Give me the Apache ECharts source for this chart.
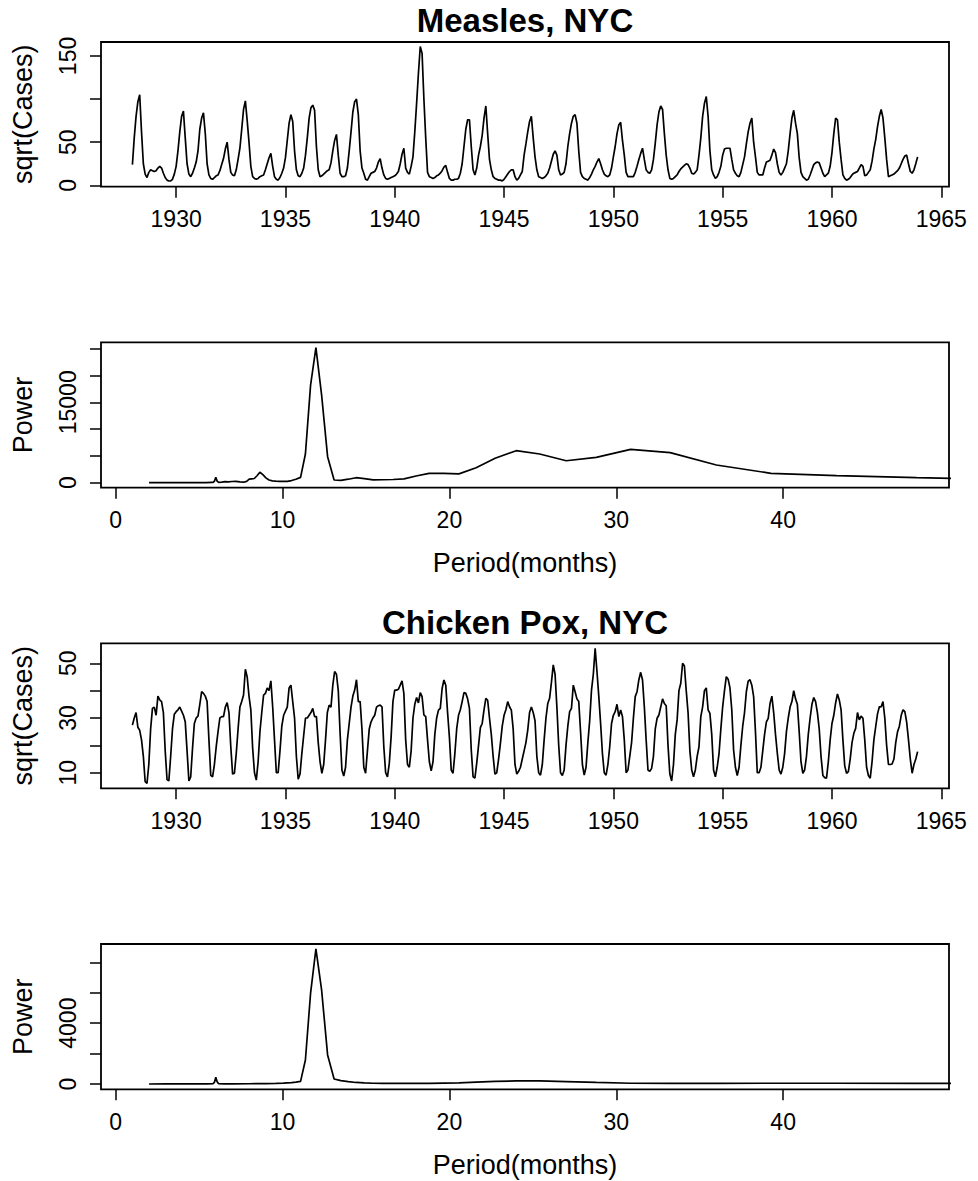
<!DOCTYPE html>
<html>
<head>
<meta charset="utf-8">
<title>Measles and Chicken Pox, NYC</title>
<script src="https://cdn.jsdelivr.net/npm/echarts@6/dist/echarts.min.js"></script>
<style>
  html, body { margin: 0; padding: 0; background: #ffffff; }
  #chart { width: 978px; height: 1181px; }
</style>
</head>
<body>
<div id="chart"></div>
<script>
// Monthly series start in January 1928 (12 values per row = one year)
const startYear = 1928;

// sqrt of monthly measles cases, NYC
const measlesSqrt = [
  24, 55, 80, 97, 105, 62, 25, 13, 9, 15, 18, 17,
  16, 17, 20, 22, 20, 14, 9, 6, 5, 5, 7, 13,
  22, 40, 62, 80, 86, 55, 25, 13, 10, 14, 20, 27,
  40, 65, 78, 84, 60, 25, 12, 8, 7, 9, 11, 12,
  17, 24, 31, 42, 50, 30, 15, 12, 11, 18, 30, 43,
  65, 88, 98, 75, 50, 22, 10, 8, 7, 8, 10, 11,
  12, 18, 25, 32, 37, 22, 10, 7, 6, 9, 14, 20,
  32, 52, 72, 82, 74, 40, 18, 11, 10, 14, 20, 35,
  55, 78, 90, 93, 87, 45, 18, 10, 11, 13, 15, 17,
  18, 26, 40, 52, 59, 35, 14, 10, 10, 11, 20, 40,
  62, 85, 97, 100, 82, 40, 20, 14, 7, 6, 10, 14,
  15, 16, 20, 27, 31, 20, 12, 8, 7, 8, 9, 10,
  11, 13, 16, 25, 36, 43, 20, 15, 13, 22, 33, 62,
  95, 130, 161, 153, 100, 55, 15, 10, 9, 8, 9, 11,
  12, 14, 17, 21, 23, 15, 8, 6, 6, 7, 7, 8,
  14, 25, 45, 65, 76, 76, 45, 18, 12, 20, 35, 45,
  58, 78, 92, 60, 30, 18, 10, 8, 7, 6, 6, 5,
  7, 10, 13, 16, 18, 18, 10, 6, 8, 12, 16, 35,
  48, 62, 74, 80, 55, 33, 18, 10, 9, 8, 9, 11,
  14, 20, 28, 36, 40, 35, 18, 12, 13, 15, 25, 45,
  60, 72, 80, 82, 72, 40, 15, 10, 8, 7, 6, 9,
  13, 18, 22, 27, 31, 25, 18, 13, 11, 10, 12, 20,
  33, 45, 60, 70, 73, 52, 35, 15, 10, 10, 10, 10,
  15, 22, 30, 37, 43, 30, 18, 15, 14, 18, 30, 49,
  70, 85, 92, 88, 60, 35, 18, 8, 7, 8, 10, 12,
  16, 19, 21, 23, 25, 24, 20, 14, 13, 15, 18, 35,
  55, 80, 95, 103, 80, 40, 18, 12, 8, 10, 15, 22,
  35, 42, 43, 43, 43, 30, 18, 14, 11, 10, 15, 24,
  33, 48, 62, 72, 78, 50, 33, 15, 12, 12, 12, 20,
  27, 28, 29, 35, 42, 38, 25, 15, 12, 15, 20, 25,
  40, 60, 78, 87, 72, 60, 32, 15, 10, 8, 6, 7,
  12, 18, 24, 26, 27, 26, 20, 14, 10, 12, 14, 22,
  38, 60, 78, 76, 50, 30, 12, 8, 6, 7, 9, 12,
  14, 15, 16, 20, 24, 22, 11, 12, 15, 18, 28, 42,
  53, 68, 80, 88, 78, 55, 30, 10, 11, 12, 13, 15,
  17, 20, 25, 30, 34, 35, 25, 16, 14, 18, 25, 33
];

// sqrt of monthly chicken pox cases, NYC
const chickenPoxSqrt = [
  27.4, 30, 32, 26.6, 25.5, 22, 16, 6.7, 6.1, 13, 26, 33.5,
  34, 31, 38, 36.6, 36, 32, 18, 7.5, 7, 16, 26, 31.4,
  32.3, 33, 34, 32.5, 31, 28.6, 18, 7, 8.5, 19, 28, 30,
  30.7, 35, 39.6, 39, 38, 36, 22, 9, 8.5, 13, 19.5, 25,
  30, 30.5, 30.5, 34, 35.6, 32, 19.5, 9.5, 9.8, 17, 26, 34,
  36, 38.4, 47.8, 45, 38, 33, 19, 10, 7.3, 14, 25, 32,
  38.4, 39, 41, 40, 43.6, 34, 22, 10, 10, 18, 27, 31,
  32.5, 34, 41, 42, 36, 30, 16, 7.6, 9.5, 17, 23.5, 30,
  30, 31, 32, 33.5, 30.5, 30.5, 21, 14, 9.8, 13, 22, 32,
  34.7, 34, 42, 47, 46, 40, 24.4, 11, 8.8, 12, 22, 28,
  34, 38, 40.2, 44, 36, 36, 26, 12, 9.8, 18, 26, 28.6,
  30, 31, 34, 34.5, 34.7, 34.1, 19.5, 10, 8.5, 13.4, 23, 36,
  40.2, 40.2, 40.5, 42, 43.6, 39, 22, 13, 12, 18, 30, 35,
  37.5, 35.5, 39.3, 37.8, 31.1, 30.5, 22, 14, 10.7, 14, 24, 30,
  32.9, 33.5, 40.8, 43.9, 42, 32, 23, 11, 9.8, 17, 26, 31,
  33, 36, 39.3, 39, 37, 33.5, 18.3, 8.5, 8, 13.5, 20, 26.5,
  28, 33, 37.2, 36.5, 30, 24, 16, 9.5, 10, 15, 20.7, 27,
  31, 33, 36, 34.1, 32.9, 26, 13, 9.5, 10.5, 12, 15, 18,
  21, 25.6, 32, 34, 32, 29, 16, 10, 9.1, 13, 22, 30,
  35.3, 37.2, 43, 49.4, 46, 34, 20, 10, 9, 11, 20, 27,
  32.3, 33.5, 42, 39.6, 37, 36, 25, 13, 9.1, 12, 21, 29,
  40.2, 46, 55.5, 47, 38, 28, 17, 10, 9.1, 13, 19.5, 28,
  31, 32.3, 35, 30.5, 32.9, 30.5, 22, 10, 11, 16, 21, 30,
  37.8, 39.6, 44, 46.7, 43.9, 34.1, 22, 11, 10.5, 11.6, 16, 26,
  29.9, 31.1, 34, 37, 35.3, 34.5, 20, 9.5, 7, 13, 24, 29.3,
  40, 42.7, 50, 49, 40, 32, 18, 11, 8.5, 11, 16, 19.5,
  30.5, 34.1, 40, 41, 33, 31.7, 24, 11, 8.5, 12, 17, 26,
  34.1, 40, 45.1, 44.2, 41, 33, 18.3, 12, 9, 12, 20, 27,
  32, 39.6, 43.5, 44, 42, 37.8, 25, 10, 10, 12, 18, 24,
  28.6, 29.9, 35.3, 38, 32, 24, 17.1, 11, 9.5, 12, 17, 25,
  30, 34, 36, 40, 37, 35, 25, 14, 9.8, 11, 16, 24,
  30, 35, 37.5, 36, 32, 26, 15.9, 9, 8.2, 8, 14, 22,
  28, 31, 35.5, 38.8, 36.6, 33, 22, 12.5, 9.8, 10.4, 15, 21,
  24.4, 26.2, 32, 29.3, 30.7, 29.9, 22, 12, 9, 8, 14, 22,
  26.8, 31.5, 34.1, 34.1, 36, 30, 20, 13, 13, 13.2, 15, 21,
  25, 27, 31, 33, 32.3, 28.5, 22, 15, 9.8, 13, 15, 17.7
];

// Periodogram of the measles series: period (months) and power
const measlesPeriod = [
  2.0, 2.5, 3.0, 3.5, 4.0, 4.5, 5.0, 5.4, 5.76, 5.84, 5.92, 6.0, 6.08, 6.17,
  6.35, 6.55, 6.75, 6.97, 7.2, 7.45, 7.71, 7.85, 8.0, 8.15, 8.31, 8.47, 8.64,
  8.82, 9.0, 9.19, 9.39, 9.6, 9.82, 10.05, 10.29, 10.54, 10.8, 11.08, 11.37,
  11.68, 12.0, 12.34, 12.7, 13.09, 13.5, 13.94, 14.4, 14.9, 15.43, 16.0, 16.62,
  17.28, 18.0, 18.78, 19.64, 20.57, 21.6, 22.74, 24.0, 25.41, 27.0, 28.8, 30.86,
  33.23, 36.0, 39.27, 43.2, 48.0, 54.0
];
const measlesPower = [
  0, 10, 0, 20, 20, 30, 40, 30, 60, 50, 300, 1000, 300, 60,
  120, 200, 150, 220, 250, 150, 120, 250, 650, 720, 780, 1300, 1950,
  1500, 900, 500, 350, 300, 250, 230, 260, 400, 650, 1000, 5350,
  18200, 25200, 16400, 4850, 500, 450, 650, 930, 750, 520, 550, 600,
  700, 1250, 1750, 1750, 1650, 2800, 4550, 5970, 5360, 4100, 4730, 6230,
  5600, 3300, 1750, 1310, 930, 580
];

// Periodogram of the chicken pox series
const poxPeriod = [
  2.0, 3.0, 4.0, 5.0, 5.5, 5.84, 5.92, 6.0, 6.08, 6.17, 6.5, 7.0, 8.0, 9.0,
  9.6, 10.05, 10.54, 10.8, 11.08, 11.37, 11.68, 12.0, 12.34, 12.7, 13.09, 13.5,
  13.94, 14.4, 14.9, 15.43, 16.0, 17.28, 18.78, 20.57, 21.6, 22.74, 24.0, 25.41,
  27.0, 28.8, 30.86, 33.23, 36.0, 39.27, 43.2, 48.0, 54.0
];
const poxPower = [
  0, 5, 5, 10, 10, 20, 120, 440, 150, 20, 10, 10, 15, 25,
  40, 60, 90, 120, 170, 1580, 5970, 8880, 6190, 1910, 330, 220,
  150, 100, 70, 50, 45, 40, 45, 70, 120, 170, 200, 200,
  160, 100, 50, 40, 40, 50, 50, 40, 30
];

// Axis ticks and the labels that are printed
const yearTicks = [1930, 1935, 1940, 1945, 1950, 1955, 1960, 1965];
const periodTicks = [0, 10, 20, 30, 40];
const measlesTicks = [0, 50, 100, 150];
const measlesLabels = [0, 50, 150];
const measlesPowerTicks = [0, 5000, 10000, 15000, 20000, 25000];
const measlesPowerLabels = [0, 15000];
const poxTicks = [10, 20, 30, 40, 50];
const poxLabels = [10, 30, 50];
const poxPowerTicks = [0, 2000, 4000, 6000, 8000];
const poxPowerLabels = [0, 4000];

const titles = ['Measles, NYC', 'Chicken Pox, NYC'];
const periodTitle = 'Period(months)';

const FONT = '"Liberation Sans", Arial, Helvetica, sans-serif';
const TICK_FONT = 23;
const NAME_FONT = 27;

function monthly(values) {
  return values.map((v, i) => [startYear + i / 12, v]);
}
function pairs(xs, ys) {
  return xs.map((x, i) => [x, ys[i]]);
}
const plain = v => String(v);

// Plot boxes (left, top, width, height in px)
const boxes = [
  { left: 101, top: 42, width: 848, height: 144.7 },
  { left: 101, top: 342.3, width: 848, height: 145.4 },
  { left: 101, top: 643.3, width: 848, height: 145 },
  { left: 101, top: 944, width: 848, height: 145.3 }
];

const tickStyle = { show: true, inside: false, length: 11, lineStyle: { color: '#000', width: 1.5 } };

function xAxisDef(gridIndex, min, max, ticks, name) {
  return {
    type: 'value', gridIndex, min, max,
    axisLine: { show: false, onZero: false },
    axisTick: Object.assign({ customValues: ticks }, tickStyle),
    axisLabel: {
      customValues: ticks, margin: 21, color: '#000', formatter: plain,
      fontFamily: FONT, fontSize: TICK_FONT
    },
    splitLine: { show: false },
    name: name || '',
    nameLocation: 'middle',
    nameGap: 62,
    nameTextStyle: { color: '#000', fontFamily: FONT, fontSize: NAME_FONT }
  };
}
function yAxisDef(gridIndex, min, max, ticks, labels, name) {
  return {
    type: 'value', gridIndex, min, max,
    axisLine: { show: false, onZero: false },
    axisTick: Object.assign({ customValues: ticks }, tickStyle),
    axisLabel: {
      customValues: labels, rotate: 90, margin: 22, color: '#000', formatter: plain,
      fontFamily: FONT, fontSize: TICK_FONT
    },
    splitLine: { show: false },
    name,
    nameLocation: 'middle',
    nameRotate: 90,
    nameGap: 65,
    nameTextStyle: { color: '#000', fontFamily: FONT, fontSize: NAME_FONT }
  };
}
function lineSeries(idx, data) {
  return {
    type: 'line', xAxisIndex: idx, yAxisIndex: idx, data,
    showSymbol: false, symbol: 'none', clip: true, silent: true,
    lineStyle: { color: '#000', width: 1.7 },
    animation: false
  };
}

const chart = echarts.init(document.getElementById('chart'), null, { renderer: 'svg' });
chart.setOption({
  backgroundColor: '#ffffff',
  animation: false,
  grid: boxes.map(b => Object.assign({
    show: true, borderColor: '#000', borderWidth: 1.8,
    backgroundColor: 'transparent', containLabel: false
  }, b)),
  xAxis: [
    xAxisDef(0, 1926.563, 1965.353, yearTicks),
    xAxisDef(1, -0.88, 49.94, periodTicks, periodTitle),
    xAxisDef(2, 1926.563, 1965.353, yearTicks),
    xAxisDef(3, -0.88, 49.94, periodTicks, periodTitle)
  ],
  yAxis: [
    yAxisDef(0, -1.62, 166.2, measlesTicks, measlesLabels, 'sqrt(Cases)'),
    yAxisDef(1, -933, 26195, measlesPowerTicks, measlesPowerLabels, 'Power'),
    yAxisDef(2, 4.3, 57.31, poxTicks, poxLabels, 'sqrt(Cases)'),
    yAxisDef(3, -349, 9205, poxPowerTicks, poxPowerLabels, 'Power')
  ],
  series: [
    lineSeries(0, monthly(measlesSqrt)),
    lineSeries(1, pairs(measlesPeriod, measlesPower)),
    lineSeries(2, monthly(chickenPoxSqrt)),
    lineSeries(3, pairs(poxPeriod, poxPower))
  ],
  graphic: [
    { type: 'text', x: 525, y: 20, style: { text: titles[0], fill: '#000',
      font: 'bold 33px ' + FONT, textAlign: 'center', textVerticalAlign: 'middle' } },
    { type: 'text', x: 525, y: 622, style: { text: titles[1], fill: '#000',
      font: 'bold 33px ' + FONT, textAlign: 'center', textVerticalAlign: 'middle' } }
  ]
});
</script>
</body>
</html>
